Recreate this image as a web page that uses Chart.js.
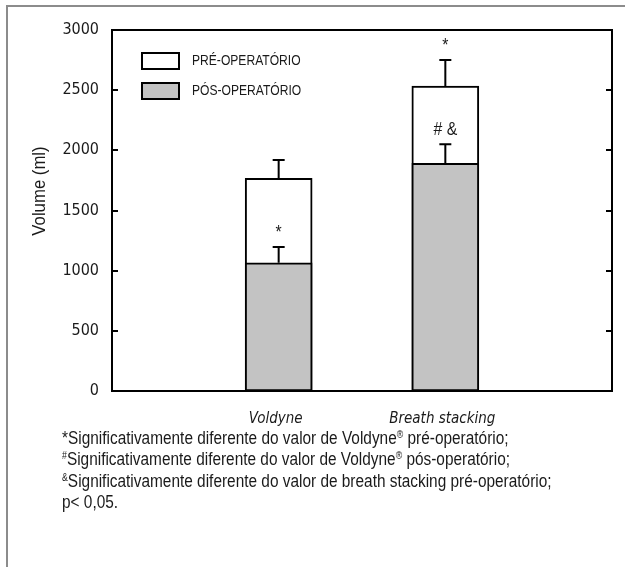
<!DOCTYPE html>
<html>
<head>
<meta charset="utf-8">
<script src="https://cdn.jsdelivr.net/npm/chart.js@4"></script>
<style>
  html, body { margin: 0; padding: 0; background: #fff; }
  #wrap { position: relative; width: 625px; height: 567px; overflow: hidden; }
  #frame { position: absolute; left: 6px; top: 5px; width: 700px; height: 700px; border: 2px solid #8c8c8c; }
  #grafico { position: absolute; left: 0; top: 0; }
  #notes { position: absolute; left: 62px; top: 428px; color: #1a1a1a;
    font: 17.5px 'Liberation Sans', Arial, sans-serif; line-height: 21.3px; white-space: nowrap;
    transform: scaleX(0.88); transform-origin: 0 0; }
  #notes sup { font-size: 10px; vertical-align: top; line-height: 1; position: relative; top: 2px; }
</style>
</head>
<body>
<div id="wrap">
  <div id="frame"></div>
  <canvas id="grafico" width="625" height="567"></canvas>
  <div id="notes">
    <div>*Significativamente diferente do valor de Voldyne<sup>®</sup> pré-operatório;</div>
    <div><sup>#</sup>Significativamente diferente do valor de Voldyne<sup>®</sup> pós-operatório;</div>
    <div><sup>&amp;</sup>Significativamente diferente do valor de breath stacking pré-operatório;</div>
    <div>p&lt; 0,05.</div>
  </div>
</div>
<script>
  const categories = ['', 'Voldyne', 'Breath stacking', ''];
  const preOp = [null, 1768, 2535, null];
  const postOp = [null, 1066, 1892, null];
  const preSD = [null, 152, 216, null];
  const postSD = [null, 131, 158, null];
  const preMarks = ['', '', '*', ''];
  const postMarks = ['', '*', '# &', ''];
  const yTicks = [0, 500, 1000, 1500, 2000, 2500, 3000];

  const fonteTicks = "'DejaVu Sans Condensed', sans-serif";

  // Liberation Sans squeezed to look like the narrow face of the original
  function textoEstreito(ctx, txt, x, y, size, align, sx) {
    ctx.save();
    ctx.translate(x, y);
    ctx.scale(sx || 0.82, 1);
    ctx.font = size + "px 'Liberation Sans', Arial, sans-serif";
    ctx.textAlign = align;
    ctx.textBaseline = 'middle';
    ctx.fillText(txt, 0, 0);
    ctx.restore();
  }

  // frame, inner ticks, error bars, marks, legend and y title
  const extras = {
    id: 'extras',
    afterDatasetsDraw(chart) {
      const { ctx, chartArea: a, scales: { x, y } } = chart;
      ctx.save();
      ctx.strokeStyle = '#000';
      ctx.lineWidth = 2;

      ctx.strokeRect(a.left, a.top, a.width, a.height);
      y.ticks.forEach(t => {
        const py = Math.round(y.getPixelForValue(t.value));
        ctx.beginPath();
        ctx.moveTo(a.left, py); ctx.lineTo(a.left + 6, py);
        ctx.moveTo(a.right, py); ctx.lineTo(a.right - 6, py);
        ctx.stroke();
      });

      ctx.fillStyle = '#1a1a1a';
      const erro = (medias, sds, marcas) => {
        categories.forEach((c, i) => {
          if (medias[i] == null) return;
          const px = x.getPixelForValue(i);
          const y0 = y.getPixelForValue(medias[i]);
          const y1 = y.getPixelForValue(medias[i] + sds[i]);
          ctx.beginPath();
          ctx.moveTo(px, y0); ctx.lineTo(px, y1);
          ctx.moveTo(px - 6, y1); ctx.lineTo(px + 6, y1);
          ctx.stroke();
          if (marcas[i]) textoEstreito(ctx, marcas[i], px, y1 - 14, 18, 'center', 0.88);
        });
      };
      erro(preOp, preSD, preMarks);
      erro(postOp, postSD, postMarks);

      // legend inside the plot
      chart.data.datasets.forEach((ds, i) => {
        const top = a.top + 23 + i * 30;
        ctx.fillStyle = ds.backgroundColor;
        ctx.fillRect(a.left + 30, top, 37, 16);
        ctx.strokeRect(a.left + 30, top, 37, 16);
        ctx.fillStyle = '#1a1a1a';
        textoEstreito(ctx, ds.label, a.left + 80, top + 8, 15.5, 'left', 0.78);
      });

      ctx.translate(40, 191);
      ctx.rotate(-Math.PI / 2);
      textoEstreito(ctx, 'Volume (ml)', 0, 0, 18, 'center', 0.93);
      ctx.restore();
    }
  };

  new Chart(document.getElementById('grafico').getContext('2d'), {
    type: 'bar',
    data: {
      labels: categories,
      datasets: [
        { label: 'PRÉ-OPERATÓRIO', data: preOp, backgroundColor: '#ffffff', borderColor: '#000', borderWidth: 2, borderSkipped: false, order: 1 },
        { label: 'PÓS-OPERATÓRIO', data: postOp, backgroundColor: '#c3c3c3', borderColor: '#000', borderWidth: 2, borderSkipped: false, order: 0 }
      ]
    },
    options: {
      responsive: false,
      animation: false,
      layout: { padding: { top: 30, right: 13, left: 0, bottom: 0 } },
      plugins: { legend: { display: false }, tooltip: { enabled: false } },
      datasets: { bar: { grouped: false, barThickness: 67 } },
      scales: {
        x: {
          offset: false,
          grid: { display: false, drawTicks: false },
          border: { display: false },
          ticks: { font: { family: fonteTicks, size: 15, style: 'italic' }, color: '#1a1a1a', padding: 19, labelOffset: -3, maxRotation: 0, autoSkip: false },
          afterFit(s) { s.height = 176; s.paddingLeft = 0; s.paddingRight = 0; }
        },
        y: {
          min: 0, max: 3000,
          afterBuildTicks(s) { s.ticks = yTicks.map(v => ({ value: v })); },
          grid: { display: false, drawTicks: false },
          border: { display: false },
          ticks: { font: { family: fonteTicks, size: 16 }, color: '#1a1a1a', padding: 13, callback: v => String(v) },
          afterFit(s) { s.width = 112; }
        }
      }
    },
    plugins: [extras]
  });
</script>
</body>
</html>
